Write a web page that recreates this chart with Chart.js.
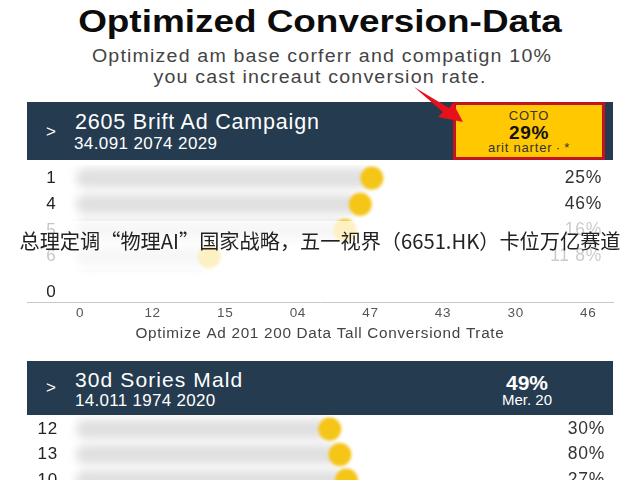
<!DOCTYPE html>
<html><head><meta charset="utf-8">
<script src="https://cdn.jsdelivr.net/npm/chart.js@4"></script>
<style>
html,body{margin:0;padding:0;background:#fff;width:640px;height:480px;overflow:hidden}
body{position:relative;font-family:"Liberation Sans",sans-serif}
.t{position:absolute;white-space:nowrap;line-height:1}
.c{text-align:center}
.hdr{position:absolute;left:27px;width:586px;background:#253b4f}
canvas{position:absolute;left:0}
</style></head><body>
<div class="t c" style="left:0;width:640px;top:4px;font:bold 31px 'Liberation Sans';color:#0c0c0c;transform:scaleX(1.19)">Optimized Conversion-Data</div>
<div class="t c" style="left:0;width:644px;top:48px;font-size:17.5px;letter-spacing:1.05px;color:#444;transform:scaleX(1.12)">Optimized am base corferr and compatign 10%</div>
<div class="t c" style="left:0;width:640px;top:69px;font-size:17.5px;letter-spacing:1.05px;color:#444;transform:scaleX(1.12)">you cast increaut conversion rate.</div>

<div class="hdr" style="top:102px;height:58px"></div>
<div class="t" style="left:46px;top:123px;font-size:17px;color:#fff">&gt;</div>
<div class="t" style="left:75px;top:112px;font-size:21.5px;letter-spacing:.8px;color:#fff">2605 Brift Ad Campaign</div>
<div class="t" style="left:74px;top:135px;font-size:17px;letter-spacing:.4px;color:#fff">34.091 2074 2029</div>
<div style="position:absolute;left:453px;top:102px;width:146px;height:52px;background:#ffc800;border:3px solid #c0141e"></div>
<div class="t c" style="left:453px;width:152px;top:109px;font-size:13px;letter-spacing:.8px;color:#333">COTO</div>
<div class="t c" style="left:453px;width:152px;top:122px;font:bold 19px 'Liberation Sans';letter-spacing:.6px;color:#111">29%</div>
<div class="t c" style="left:453px;width:152px;top:141px;font-size:13px;letter-spacing:.8px;color:#333">arit narter&#8201;&#183;&#8201;*</div>
<svg style="position:absolute;left:0;top:0" width="640" height="170"><polygon points="414,87 449,108 453,103 463,122 438,117 443,112" fill="#e8101c"/></svg>

<canvas id="c1" width="640" height="180" style="top:165px"></canvas>
<div style="position:absolute;left:0;width:640px;top:221px;height:49px;background:rgba(255,255,255,.74)"></div>
<div class="t c" style="left:0;width:640px;top:226px;font:20.2px 'Noto Sans CJK SC';color:#222">总理定调“物理AI”国家战略，五一视界（6651.HK）卡位万亿赛道</div>

<div class="hdr" style="top:361px;height:54px"></div>
<div class="t" style="left:46px;top:379px;font-size:17px;color:#fff">&gt;</div>
<div class="t" style="left:75px;top:369px;font-size:21px;letter-spacing:1.1px;color:#fff">30d Sories Mald</div>
<div class="t" style="left:75px;top:392px;font-size:17px;letter-spacing:.3px;color:#fff">14.011 1974 2020</div>
<div class="t c" style="left:467px;width:120px;top:371px;font:bold 21px 'Liberation Sans';color:#fff">49%</div>
<div class="t c" style="left:467px;width:120px;top:392px;font-size:15px;color:#fff">Mer. 20</div>
<canvas id="c2" width="640" height="100" style="top:415px"></canvas>

<script>
// Section one
const axisLabels = ['0','12','15','04','47','43','30','46'];
const axisTitle = 'Optimize Ad 201 200 Data Tall Conversiond Trate';
const rowLabelsA = ['1','4','5','6','0'];
const rowPosA = [0,1,2,3,4.37];
const barValuesA = [4.02,3.86,3.65,1.78];
const pctLabelsA = ['25%','46%','16%','11 8%',''];
// Section two
const rowLabelsB = ['12','13','10'];
const rowPosB = [0,1,2];
const barValuesB = [3.44,3.58,3.67];
const pctLabelsB = ['30%','80%','27%'];
const barStart = -0.05;

const xTicks = axisLabels.map((_,i)=>i);
const softPlugin = {
  id:'softMarks',
  beforeDraw(chart){chart.ctx.letterSpacing='0.7px';},
  beforeDatasetDraw(chart,args){chart.ctx.save();chart.ctx.filter=args.index===0?'blur(4px)':'blur(1.5px)';},
  afterDatasetDraw(chart){chart.ctx.restore();}
};
function build(id,rows,pos,vals,pcts,yMin,yMax,showX,leftPad,rightPad){
  const dots = vals.map((v,i)=>({x:v,y:pos[i]}));
  const bars = vals.map((v,i)=>({x:[barStart,v],y:pos[i]}));
  const setTicks = s=>{s.ticks = pos.map(v=>({value:v}));};
  const noWidth = s=>{s.width=0;s.paddingTop=0;s.paddingBottom=0;};
  new Chart(document.getElementById(id),{
    type:'bar',
    data:{datasets:[
      {type:'bar',indexAxis:'y',data:bars,xAxisID:'x',yAxisID:'y',backgroundColor:'#e0e0e0',barThickness:19,borderRadius:9,borderSkipped:false,order:2},
      {type:'scatter',data:dots,xAxisID:'x',yAxisID:'y',backgroundColor:'#f5c518',borderWidth:0,pointRadius:11.5,pointHoverRadius:11.5,order:1}
    ]},
    plugins:[softPlugin],
    options:{
      responsive:false,animation:false,devicePixelRatio:1,
      layout:{autoPadding:false,padding:{left:27,right:27,top:0,bottom:0}},
      plugins:{legend:{display:false},tooltip:{enabled:false},title:{display:false}},
      scales:{
        x:{type:'linear',offset:false,display:showX,position:'bottom',min:-0.73,max:7.34,
           afterBuildTicks:s=>{s.ticks=xTicks.map(v=>({value:v}));},
           grid:{display:false,drawTicks:false},border:{color:'#c8c8c8',display:true},
           ticks:{autoSkip:false,maxRotation:0,padding:3,color:'#555',font:{size:13.5,family:'Liberation Sans'},callback:v=>axisLabels[v]},
           title:{display:true,text:axisTitle,color:'#444',padding:{top:0,bottom:2},font:{size:15.3,family:'Liberation Sans'}}},
        y:{type:'linear',offset:false,position:'left',reverse:true,min:yMin,max:yMax,afterBuildTicks:setTicks,afterFit:noWidth,
           grid:{display:false,drawTicks:false},border:{display:false},
           ticks:{mirror:true,crossAlign:'far',padding:leftPad,autoSkip:false,color:'#222',font:{size:17,family:'Liberation Sans'},
             callback:v=>rows[pos.indexOf(v)]}},
        y1:{type:'linear',offset:false,position:'right',reverse:true,min:yMin,max:yMax,afterBuildTicks:setTicks,afterFit:noWidth,
           grid:{display:false,drawTicks:false},border:{display:false},
           ticks:{mirror:true,padding:rightPad,autoSkip:false,color:'#333',font:{size:17.5,family:'Liberation Sans'},
             callback:v=>pcts[pos.indexOf(v)]}}
      }
    }
  });
}
build('c1',rowLabelsA,rowPosA,barValuesA,pctLabelsA,-0.5,4.75,true,20,-11);
build('c2',rowLabelsB,rowPosB,barValuesB,pctLabelsB,-0.55,3.37,false,12,-8);
</script>
</body></html>
